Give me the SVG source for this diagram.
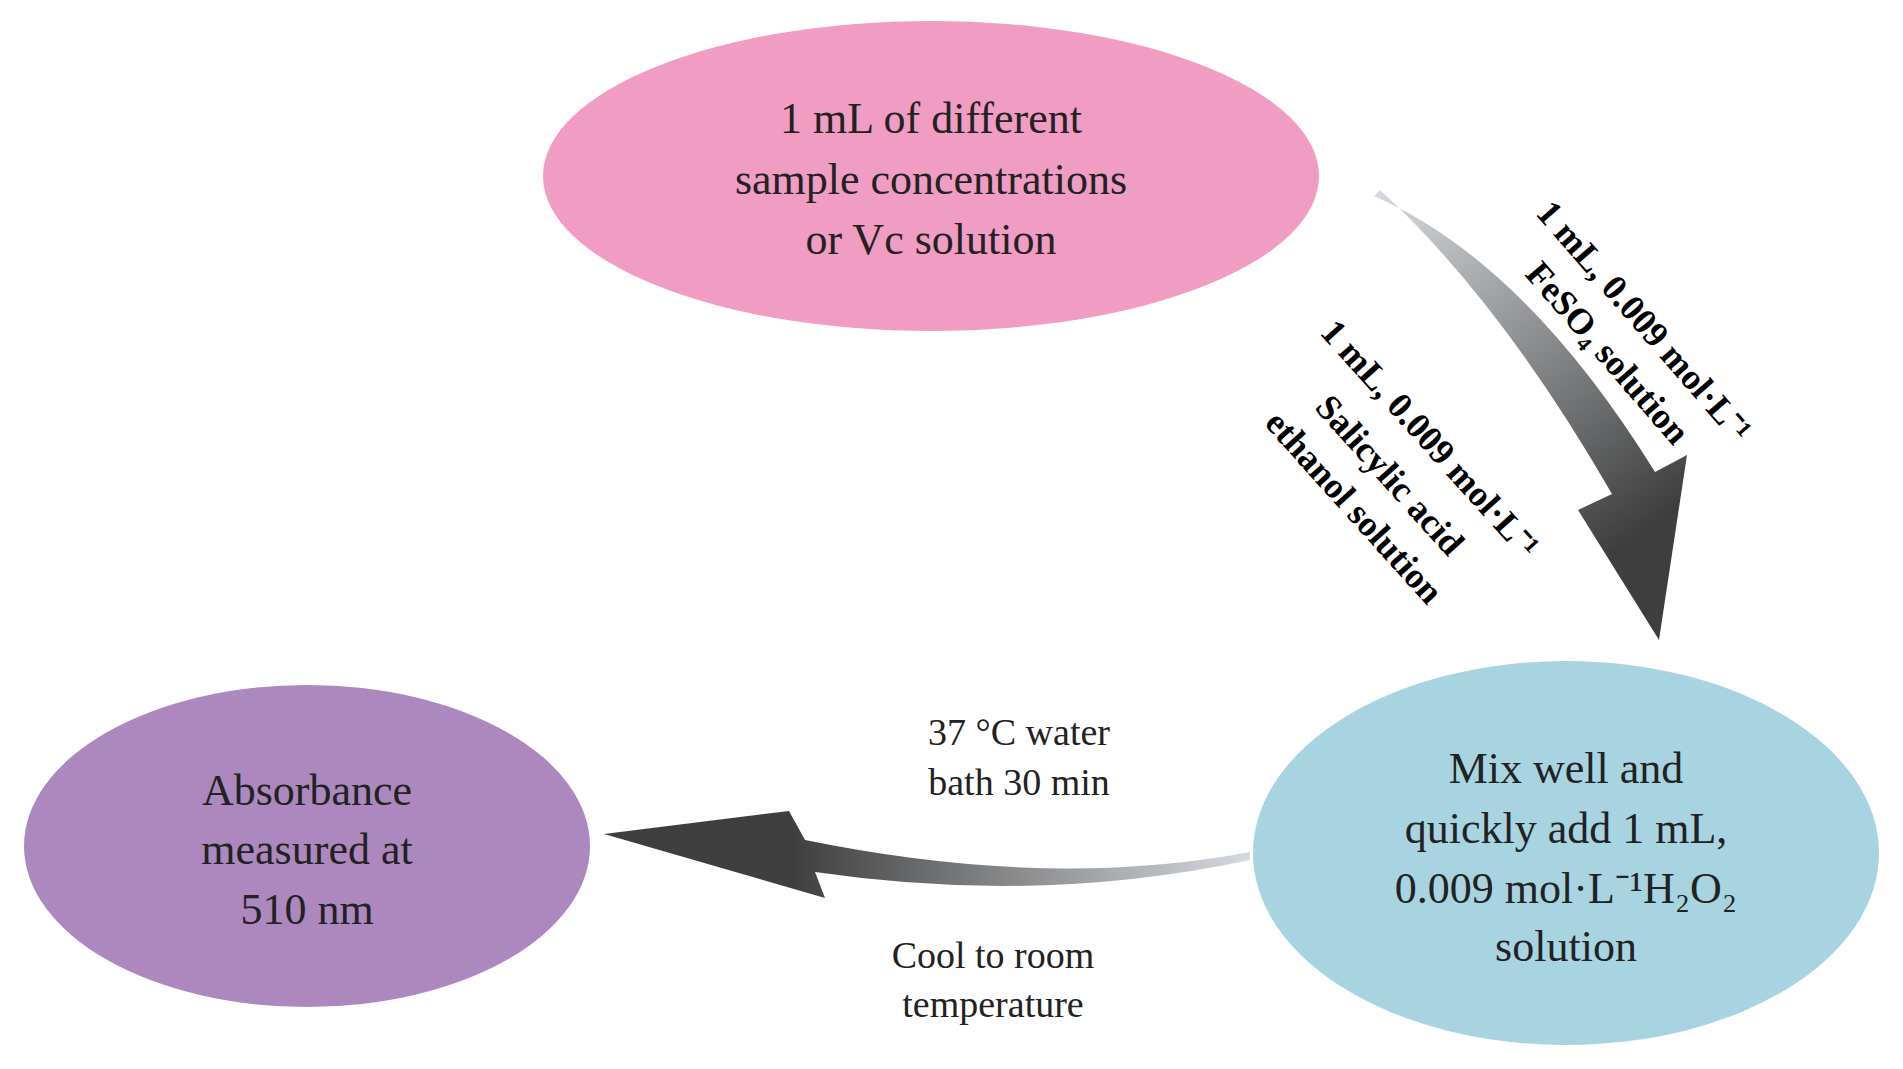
<svg xmlns="http://www.w3.org/2000/svg" width="1903" height="1069" viewBox="0 0 1903 1069">
<style>
.t{font-family:"Liberation Serif",serif;font-size:44px;fill:#222;text-anchor:middle}
.r{font-family:"Liberation Serif",serif;font-size:36px;font-weight:bold;fill:#000;text-anchor:middle}
.l{font-family:"Liberation Serif",serif;font-size:38px;fill:#222;text-anchor:middle}
</style>
<defs>
<linearGradient id="g1" gradientUnits="userSpaceOnUse" x1="1377" y1="194" x2="1630" y2="540"><stop offset="0" stop-color="#d6dade"/><stop offset="0.5" stop-color="#8a8c8e"/><stop offset="1" stop-color="#3e3e3e"/></linearGradient>
<linearGradient id="g2" gradientUnits="userSpaceOnUse" x1="1250" y1="0" x2="790" y2="0"><stop offset="0" stop-color="#d6dade"/><stop offset="0.5" stop-color="#8a8c8e"/><stop offset="1" stop-color="#3e3e3e"/></linearGradient>
</defs>
<rect width="1903" height="1069" fill="#fff"/>
<g id="connectors">
<path d="M1374,196 Q1525,262 1655,472 L1687,455 L1659,640 L1578,510 L1612,494 Q1500,300 1380,190 Z" fill="url(#g1)"/>
<path d="M1250,852 Q1050,890 805,840 L789,811 L604,834 L825,898 L815,872 Q1040,905 1250,860 Z" fill="url(#g2)"/>
<text class="r" transform="translate(1626,337) rotate(49)"><tspan x="0" y="-12">1 mL, 0.009 mol·L⁻¹</tspan><tspan x="0" y="36">FeSO₄ solution</tspan></text>
<text class="r" transform="translate(1390,475) rotate(48)"><tspan x="0" y="-42">1 mL, 0.009 mol·L⁻¹</tspan><tspan x="0" y="12">Salicylic acid</tspan><tspan x="0" y="60">ethanol solution</tspan></text>
<text class="l"><tspan x="1019" y="745">37 °C water</tspan><tspan x="1019" y="795">bath 30 min</tspan></text>
<text class="l"><tspan x="993" y="968">Cool to room</tspan><tspan x="993" y="1017">temperature</tspan></text>
</g>
<g id="sample">
<ellipse cx="931" cy="176" rx="388" ry="155" fill="#F09CC3"/>
<text class="t"><tspan x="931" y="133">1 mL of different</tspan><tspan x="931" y="194">sample concentrations</tspan><tspan x="931" y="254">or Vc solution</tspan></text>
</g>
<g id="mix">
<ellipse cx="1566" cy="853" rx="313" ry="192" fill="#A8D4E2"/>
<text class="t"><tspan x="1566" y="783">Mix well and</tspan><tspan x="1566" y="843">quickly add 1 mL,</tspan><tspan x="1566" y="903">0.009 mol·L⁻¹H₂O₂</tspan><tspan x="1566" y="961">solution</tspan></text>
</g>
<g id="absorbance">
<ellipse cx="307" cy="846" rx="283" ry="161" fill="#AD88BE"/>
<text class="t"><tspan x="307" y="805">Absorbance</tspan><tspan x="307" y="864">measured at</tspan><tspan x="307" y="924">510 nm</tspan></text>
</g>
</svg>
